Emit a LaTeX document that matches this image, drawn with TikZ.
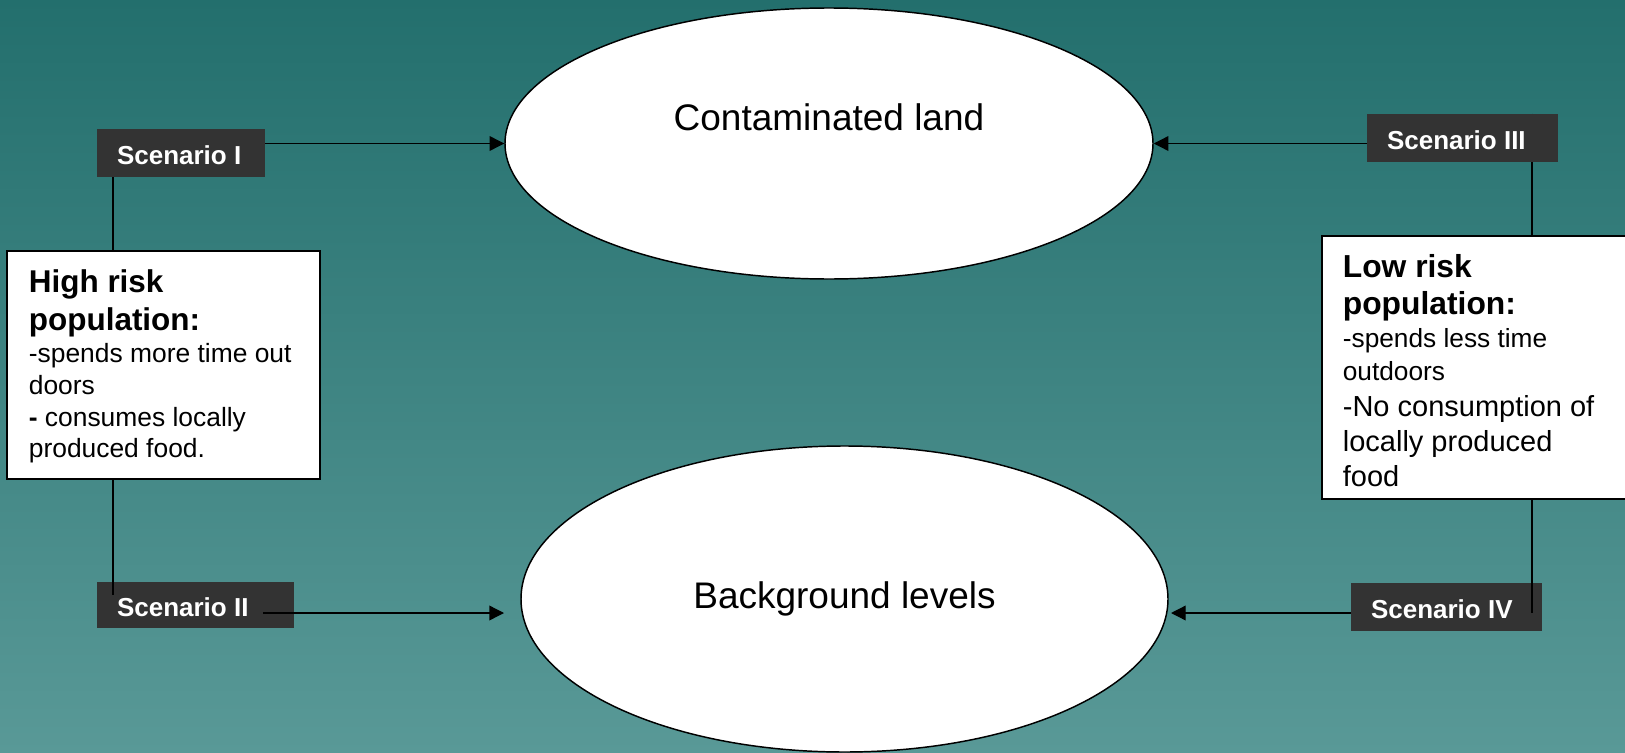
\documentclass[tikz,border=0pt]{standalone}
\usepackage{fontspec}
\setmainfont{Liberation Sans}
\usetikzlibrary{arrows.meta,shapes.geometric,calc}
\definecolor{bgtop}{RGB}{35,111,109}
\definecolor{bgbot}{RGB}{89,153,151}
\definecolor{scenfill}{RGB}{51,51,51}
\pgfdeclarelayer{back}
\pgfdeclarelayer{mid}
\pgfsetlayers{back,mid,main}
\begin{document}
\begin{tikzpicture}[x=0.75pt,y=-0.75pt,
  scenbox/.style={fill=scenfill, text=white, font=\fontsize{19.5}{23}\selectfont\bfseries,
    inner xsep=15pt, inner ysep=0pt, text height=17pt, text depth=0pt},
  oval/.style={ellipse, draw=black, line width=1.1pt, fill=white, inner sep=0pt},
  infobox/.style={draw=black, line width=1.3pt, fill=white, inner ysep=0pt},
  arr/.style={draw=black, line width=1pt, -{Triangle[length=11pt,width=11pt]}},
  link/.style={draw=black, line width=1pt}]
\useasboundingbox (0,0) rectangle (1625,753);
\begin{pgfonlayer}{back}
  \shade[top color=bgtop, bottom color=bgbot] (0,0) rectangle (1625,753);
  \node[scenbox, minimum height=34.5pt] (s2) at (195.5,605) {\makebox[117.75pt][l]{Scenario II}};
  \node[scenbox, minimum height=36pt] (s4) at (1446.5,607) {\makebox[113.25pt][l]{Scenario IV}};
\end{pgfonlayer}

% ellipses
\node[oval, minimum width=486pt, minimum height=203.25pt] (cl) at (829,143.5) {};
\node[font=\fontsize{27.75}{33}\selectfont] (clt) at (829,117) {Contaminated land};
\node[oval, minimum width=485.25pt, minimum height=229.5pt,
      font=\fontsize{27.75}{33}\selectfont] (bl) at (844.5,599) {Background levels};

% scenario labels (top)
\node[scenbox, minimum height=36pt] (s1) at (181,153) {\makebox[96pt][l]{Scenario I}};
\node[scenbox, minimum height=36pt] (s3) at (1462.5,138) {\makebox[113.25pt][l]{Scenario III}};

% info boxes
\node[infobox, anchor=north west, inner xsep=16.5pt] (hr) at (6,250) {%
  \parbox[c][171pt][t]{201.75pt}{\raggedright\vspace*{14.4pt}%
  {\fontsize{23.6}{28.5}\selectfont\bfseries High risk\\ population:\par}%
  {\fontsize{19.8}{23.8}\selectfont -spends more time out\\ doors\\ \textbf{-} consumes locally\\ produced food.\par}}};
\node[infobox, anchor=north west, inner xsep=15.75pt] (lr) at (1321,235) {%
  \parbox[c][197.25pt][t]{207.75pt}{\raggedright\vspace*{13.6pt}%
  {\fontsize{23.85}{27.75}\selectfont\bfseries Low risk\\ population:\par}%
  {\fontsize{19.7}{25}\selectfont -spends less time\\ outdoors\par}%
  {\fontsize{21.75}{26.5}\selectfont -No consumption of\\ locally produced\\ food\par}}};

% connectors
\begin{pgfonlayer}{mid}
  \coordinate (l2) at (113,595);
  \coordinate (r4) at (1532,613);
  \coordinate (a2e) at (504,613);
  \coordinate (a4e) at (1171,613);
  \path (s2.east) ++(-31,0) coordinate (s2in);
  \draw[link] (l2 |- s1.south) -- (l2);
  \draw[link] (r4 |- s3.north) -- (r4);
  \draw[arr] (s1.east |- cl.west) -- (cl.west);
  \draw[arr] (s3.west |- cl.east) -- (cl.east);
  \draw[arr] (s2in |- a2e) -- (a2e);
  \draw[arr] (s4.west |- a4e) -- (a4e);
\end{pgfonlayer}
\end{tikzpicture}
\end{document}
